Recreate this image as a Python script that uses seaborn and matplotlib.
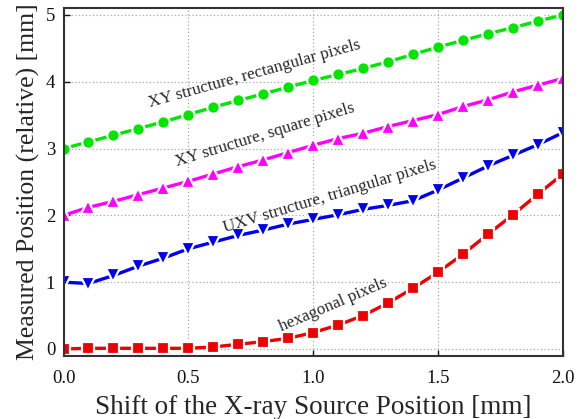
import numpy as np
import pandas as pd
import matplotlib
matplotlib.use("Agg")
import matplotlib.pyplot as plt
import seaborn as sns

shift = [0.0, 0.1, 0.2, 0.3, 0.4, 0.5, 0.6, 0.7, 0.8, 0.9, 1.0,
         1.1, 1.2, 1.3, 1.4, 1.5, 1.6, 1.7, 1.8, 1.9, 2.0]
xy_rect = [3.0, 3.1, 3.2, 3.3, 3.4, 3.51, 3.62, 3.72, 3.82, 3.92, 4.02,
           4.11, 4.2, 4.3, 4.41, 4.52, 4.62, 4.72, 4.81, 4.91, 5.0]
xy_square = [2.0, 2.12, 2.21, 2.31, 2.41, 2.51, 2.62, 2.73, 2.83, 2.94, 3.05,
             3.15, 3.23, 3.33, 3.42, 3.51, 3.63, 3.73, 3.85, 3.95, 4.05]
uxv_tri = [1.0, 0.98, 1.1, 1.24, 1.36, 1.5, 1.6, 1.7, 1.78, 1.87, 1.94,
           2.01, 2.09, 2.15, 2.22, 2.38, 2.56, 2.74, 2.9, 3.06, 3.24]
hexagonal = [0.0, 0.01, 0.01, 0.01, 0.01, 0.01, 0.03, 0.07, 0.11, 0.16, 0.245,
             0.36, 0.5, 0.69, 0.91, 1.15, 1.42, 1.72, 2.01, 2.32, 2.62]

labels = ["XY structure, rectangular pixels", "XY structure, square pixels",
          "UXV structure, triangular pixels", "hexagonal pixels"]
series = [xy_rect, xy_square, uxv_tri, hexagonal]
colors = ["#00e600", "#ff00ff", "#0000ee", "#ee0000"]
markers = ["o", "^", "v", "s"]
msizes = [9, 9.5, 9.5, 8]

sns.set_style("white")
plt.rcParams['font.family'] = ['Liberation Serif', 'DejaVu Serif']

fig = plt.figure(figsize=(5.79, 4.19), dpi=100)
ax = fig.add_axes([0.1097, 0.1504, 0.8627, 0.8306])

for lab, vals, c, m, ms in zip(labels, series, colors, markers, msizes):
    df = pd.DataFrame({"x": shift, "y": vals})
    sns.lineplot(data=df, x="x", y="y", ax=ax, color=c, marker=m,
                 markersize=ms, markeredgewidth=1.6, markeredgecolor="white",
                 linewidth=2.4, dashes=False, legend=False, zorder=3)

ax.set_xlim(0, 2.0)
ax.set_ylim(-0.105, 5.105)
ax.set_xticks([0.0, 0.5, 1.0, 1.5, 2.0])
ax.set_xticklabels(["0.0", "0.5", "1.0", "1.5", "2.0"])
ax.set_yticks([0, 1, 2, 3, 4, 5])
ax.grid(True, linestyle=(0, (1, 2.2)), color="#9a9a9a", linewidth=0.8)
ax.tick_params(direction="in", length=4, width=1, labelsize=13.5,
               left=True, bottom=True, colors="#111111")
ax.tick_params(axis="x", pad=10)
ax.tick_params(axis="y", pad=6)
for sp in ax.spines.values():
    sp.set_color("#333333")
    sp.set_linewidth(1.5)
    sp.set_zorder(5)

ax.set_xlabel("Shift of the X-ray Source Position [mm]", fontsize=19.5, labelpad=6)
ax.set_ylabel("Measured Position (relative) [mm]", fontsize=18.5, labelpad=4)

ann = [(0.763, 4.12, 15.5), (0.807, 3.20, 17), (1.067, 2.29, 16.7), (1.079, 0.66, 23)]
for lab, (tx, ty, rot) in zip(labels, ann):
    ax.text(tx, ty, lab, fontsize=12.3, rotation=rot, ha="center", va="center",
            rotation_mode="anchor", zorder=6)

fig.savefig("out.png", dpi=100)
